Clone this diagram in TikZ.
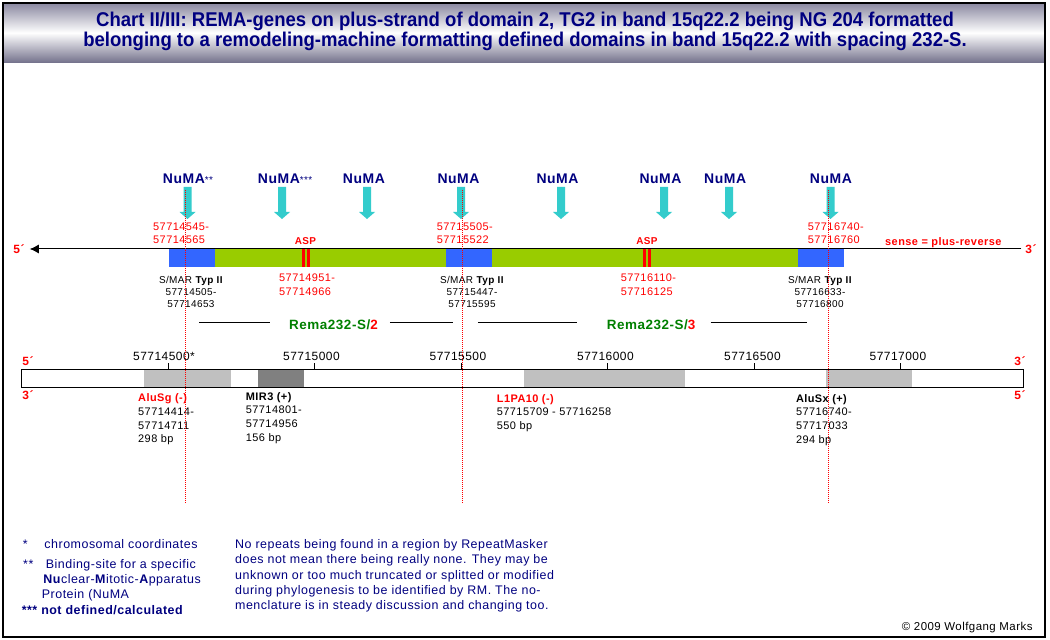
\documentclass[tikz,border=0pt]{standalone}
\usepackage{fontspec}
\setmainfont{Liberation Sans}[LetterSpace=4]
\newfontfamily\titlefont{Liberation Sans}[FakeStretch=0.93]
\usetikzlibrary{arrows.meta}
\definecolor{numanavy}{RGB}{0,0,128}
\definecolor{numacyan}{RGB}{51,204,204}
\definecolor{barlime}{RGB}{153,204,0}
\definecolor{smarblue}{RGB}{51,102,255}
\definecolor{remagreen}{RGB}{0,128,0}
\definecolor{replight}{RGB}{192,192,192}
\definecolor{repdark}{RGB}{128,128,128}
\definecolor{bandtop}{RGB}{138,136,160}
\definecolor{bandbot}{RGB}{116,114,140}
\def\bartop{249}
\def\barbot{267.5}
\def\scaletop{369.3}
\def\scalebot{387.3}
\tikzset{title/.style={anchor=base, inner sep=0pt, align=center, text=numanavy, font=\titlefont\bfseries\fontsize{20}{21}\selectfont}}
\tikzset{strand/.style={line width=1bp, black, -{Latex[length=9bp,width=9bp]}}}
\tikzset{numalabel/.style={anchor=base west, inner sep=0pt, text=numanavy, font=\bfseries\fontsize{14}{14}\selectfont}}
\tikzset{numaarrow/.pic={\fill[numacyan] (-4,0) -- (4,0) -- (4,25) -- (8,25) -- (0,32) -- (-8,25) -- (-4,25) -- cycle;}}
\tikzset{redcoord/.style={anchor=base west, inner sep=0pt, align=left, text=red, font=\fontsize{11}{14}\selectfont}}
\tikzset{smar/.style={anchor=base, inner sep=0pt, align=center, font=\fontsize{10}{12.2}\selectfont}}
\tikzset{asp/.style={anchor=base, inner sep=0pt, text=red, font=\bfseries\fontsize{10}{10}\selectfont}}
\tikzset{endlabel/.style={anchor=base, inner sep=0pt, text=red, text height=9bp, text depth=0pt, font=\bfseries\fontsize{12}{12}\selectfont}}
\tikzset{sense/.style={anchor=base west, inner sep=0pt, text=red, font=\bfseries\fontsize{11}{11}\selectfont}}
\tikzset{rema/.style={anchor=base west, inner sep=0pt, text=remagreen, font=\bfseries\fontsize{13.5}{13.5}\selectfont}}
\tikzset{remaline/.style={line width=1bp, black}}
\tikzset{markline/.style={red, line width=1bp, dash pattern=on 1bp off 1bp}}
\tikzset{scalelabel/.style={anchor=base, inner sep=0pt, font=\fontsize{12}{12}\selectfont}}
\tikzset{replabel/.style={anchor=base west, inner sep=0pt, align=left, font=\fontsize{11}{13.8}\selectfont}}
\tikzset{legendtext/.style={anchor=base west, inner sep=0pt, align=left, text=numanavy, font=\fontsize{12.5}{14.4}\selectfont}}

\begin{document}
\begin{tikzpicture}[x=1bp,y=-1bp]
\useasboundingbox (0,0) rectangle (1050,640);
\fill[white] (0,0) rectangle (1050,640);
% title band (multi-line nodes sit on their last baseline)
\shade[top color=bandtop, bottom color=bandbot, middle color=white] (3,3) rectangle (1045,62.5);
\node[title] (title) at (525,47) {Chart II/III: REMA-genes on plus-strand of domain 2, TG2 in band 15q22.2 being NG 204 formatted\\belonging to a remodeling-machine formatting defined domains in band 15q22.2 with spacing 232-S.};

% NuMA binding sites
\node[numalabel] (numa1) at (162.7,183.3) {NuMA{\mdseries\fontsize{10}{10}\selectfont **}};
\node[numalabel] (numa2) at (257.7,183.3) {NuMA{\mdseries\fontsize{10}{10}\selectfont ***}};
\node[numalabel] (numa3) at (342.7,183.3) {NuMA};
\node[numalabel] (numa4) at (437.3,183.3) {NuMA};
\node[numalabel] (numa5) at (536.3,183.3) {NuMA};
\node[numalabel] (numa6) at (639.3,183.3) {NuMA};
\node[numalabel] (numa7) at (704,183.3) {NuMA};
\node[numalabel] (numa8) at (809.7,183.3) {NuMA};
\pic at (187.5,187) {numaarrow};
\pic at (282,187) {numaarrow};
\pic at (367,187) {numaarrow};
\pic at (461,187) {numaarrow};
\pic at (561,187) {numaarrow};
\pic at (664,187) {numaarrow};
\pic at (729,187) {numaarrow};
\pic at (830.5,187) {numaarrow};
\node[redcoord] (site1) at (153,244) {57714545-\\57714565};
\node[redcoord] (site2) at (436.7,244) {57715505-\\57715522};
\node[redcoord] (site3) at (807.7,244) {57716740-\\57716760};

% plus strand with S/MAR and ASP
\fill[barlime] (169,\bartop) rectangle (844,\barbot);
\fill[smarblue] (169,\bartop) rectangle (215,\barbot);
\fill[smarblue] (446,\bartop) rectangle (491.5,\barbot);
\fill[smarblue] (797.6,\bartop) rectangle (844,\barbot);
\fill[red] (301.7,\bartop) rectangle (305,\barbot);
\fill[red] (306.7,\bartop) rectangle (310,\barbot);
\fill[red] (643.3,\bartop) rectangle (646.3,\barbot);
\fill[red] (648.3,\bartop) rectangle (651.3,\barbot);
\node[endlabel] (top5) at (19,253.5) {5´};
\node[endlabel] (top3) at (1031,253.5) {3´};
\draw[strand, shorten <=4bp, shorten >=5bp] (top3.west) -- (top5.east);
\node[sense] (sense) at (885,246) {sense = plus-reverse};
\node[asp] (asp1) at (305.5,245) {ASP};
\node[asp] (asp2) at (647,245) {ASP};
\node[smar] (smar1) at (191,307.7) {S/MAR \textbf{Typ II}\\57714505-\\57714653};
\node[smar] (smar2) at (472,307.7) {S/MAR \textbf{Typ II}\\57715447-\\57715595};
\node[smar] (smar3) at (820,307.7) {S/MAR \textbf{Typ II}\\57716633-\\57716800};
\node[redcoord] (aspc1) at (279,295.7) {57714951-\\57714966};
\node[redcoord] (aspc2) at (620.7,295.7) {57716110-\\57716125};

% domains
\node[rema] (rema2) at (289,329) {Rema232-S/\textcolor{red}{2}};
\node[rema] (rema3) at (606.6,329) {Rema232-S/\textcolor{red}{3}};
\coordinate (rl1) at (199,322.5);
\coordinate (rl2) at (453,322.5);
\coordinate (rl3) at (477.8,322.5);
\coordinate (rl4) at (806.5,322.5);
\draw[remaline, shorten >=19bp] (rl1) -- (rl1 -| rema2.west);
\draw[remaline, shorten <=12bp] (rl2 -| rema2.east) -- (rl2);
\draw[remaline, shorten >=30bp] (rl3) -- (rl3 -| rema3.west);
\draw[remaline, shorten <=15bp] (rl4 -| rema3.east) -- (rl4);

% chromosomal scale with repeats
\fill[replight] (144,\scaletop) rectangle (231,\scalebot);
\fill[repdark] (258,\scaletop) rectangle (304,\scalebot);
\fill[replight] (524,\scaletop) rectangle (685,\scalebot);
\fill[replight] (826,\scaletop) rectangle (912,\scalebot);
\draw[line width=1bp] (21,\scaletop) rectangle (1023,\scalebot);
\draw[line width=1bp] (168.5,363) -- (168.5,\scaletop);
\draw[line width=1bp] (314.5,363) -- (314.5,\scaletop);
\draw[line width=1bp] (461.5,363) -- (461.5,\scaletop);
\draw[line width=1bp] (607.5,363) -- (607.5,\scaletop);
\draw[line width=1bp] (754.5,363) -- (754.5,\scaletop);
\draw[line width=1bp] (900.5,363) -- (900.5,\scaletop);
\node[scalelabel] (pos1) at (164,360) {57714500*};
\node[scalelabel] (pos2) at (311.5,360) {57715000};
\node[scalelabel] (pos3) at (458,360) {57715500};
\node[scalelabel] (pos4) at (605.5,360) {57716000};
\node[scalelabel] (pos5) at (752.5,360) {57716500};
\node[scalelabel] (pos6) at (898,360) {57717000};
\node[endlabel] (scl5) at (28,365) {5´};
\node[endlabel] (scl3) at (28,399.5) {3´};
\node[endlabel] (scr3) at (1020,365) {3´};
\node[endlabel] (scr5) at (1020,399.5) {5´};
\node[replabel] (alusg) at (138,442.9) {\textcolor{red}{\textbf{AluSg (-)}}\\57714414-\\57714711\\298 bp};
\node[replabel] (mir3) at (245.7,441.4) {\textbf{MIR3 (+)}\\57714801-\\57714956\\156 bp};
\node[replabel] (l1pa10) at (496.7,429.6) {\textcolor{red}{\textbf{L1PA10 (-)}}\\57715709 - 57716258\\550 bp};
\node[replabel] (alusx) at (795.8,443.4) {\textbf{AluSx (+)}\\57716740-\\57717033\\294 bp};

% marker lines
\draw[markline] (185.5,190) -- (185.5,503);
\draw[markline] (462.5,190) -- (462.5,503);
\draw[markline] (828.5,190) -- (828.5,503);

% legend
\node[legendtext] (leg1) at (22.7,548.5) {*};
\node[legendtext] (leg1t) at (44.3,548.5) {chromosomal coordinates};
\node[legendtext] (leg2) at (23,568) {**};
\node[legendtext] (leg2t) at (45.7,568) {Binding-site for a specific};
\node[legendtext] (leg2n) at (43.3,583.3) {\textbf{Nu}clear-\textbf{M}itotic-\textbf{A}pparatus};
\node[legendtext] (leg2p) at (41.7,598.3) {Protein (NuMA};
\node[legendtext] (leg3) at (21.6,614.5) {\textbf{*** not defined/calculated}};
\node[legendtext, font=\fontsize{12.5}{15.2}\selectfont] (note) at (235,609.3) {No repeats being found in a region by RepeatMasker\\does not mean there being really none. They may be\\unknown or too much truncated or splitted or modified\\during phylogenesis to be identified by RM. The no-\\menclature is in steady discussion and changing too.};
\node[anchor=base east, inner sep=0pt, font=\fontsize{11.5}{11.5}\selectfont] (copy) at (1032.7,630.7) {© 2009 Wolfgang Marks};

% frame
\draw[line width=1.5bp] (3,3) rectangle (1045,637);
\end{tikzpicture}
\end{document}
